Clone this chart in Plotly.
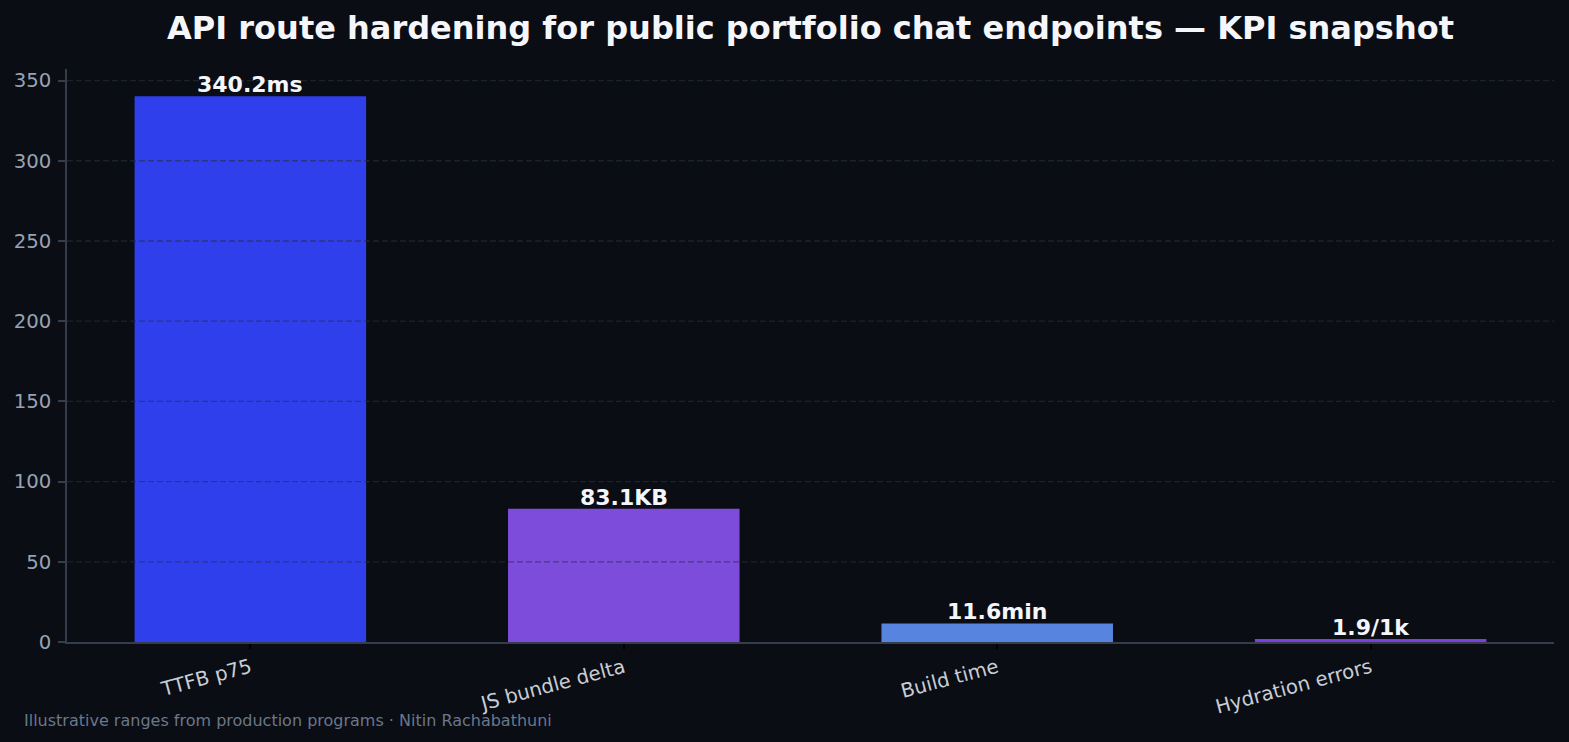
import plotly.graph_objects as go

categories = ["TTFB p75", "JS bundle delta", "Build time", "Hydration errors"]
values = [340.2, 83.1, 11.6, 1.9]
value_labels = ["340.2ms", "83.1KB", "11.6min", "1.9/1k"]
bar_colors = ["#2f3fec", "#7d4cdb", "#5784de", "#7b3fe0"]
y_ticks = [0, 50, 100, 150, 200, 250, 300, 350]

title = "API route hardening for public portfolio chat endpoints — KPI snapshot"
footer = "Illustrative ranges from production programs · Nitin Rachabathuni"

BG = "#0a0d14"
FONT = "DejaVu Sans"

W, H = 1569, 742
L, R, T, B = 67, 15, 69, 100
pw, ph = W - L - R, H - T - B

fig = go.Figure()
fig.add_trace(go.Bar(
    x=list(range(len(categories))),
    y=values,
    width=0.62,
    marker=dict(color=bar_colors, line=dict(width=0)),
    hoverinfo="skip",
))

shapes = []
for v in y_ticks[1:]:
    shapes.append(dict(type="line", xref="paper", yref="y", x0=0, x1=1, y0=v, y1=v,
                       layer="above", line=dict(color="rgba(40,48,62,0.6)", width=1.3, dash="6px,3px")))

annotations = []
for i, (v, lab) in enumerate(zip(values, value_labels)):
    annotations.append(dict(
        x=i, y=v, xref="x", yref="y", text="<b>" + lab + "</b>",
        xanchor="center", yanchor="bottom", yshift=-3, showarrow=False,
        font=dict(family=FONT, size=22, color="#f5f6fa"),
    ))
annotations.append(dict(
    text=footer, xref="paper", yref="paper",
    x=(22 - L) / pw, y=(H - B - 720) / ph, xanchor="left", yanchor="middle",
    showarrow=False, font=dict(family=FONT, size=16, color="#6b778a"),
))

fig.update_layout(
    width=W, height=H,
    margin=dict(l=L, r=R, t=T, b=B, pad=0),
    paper_bgcolor=BG, plot_bgcolor=BG,
    showlegend=False,
    shapes=shapes,
    annotations=annotations,
    title=dict(text="<b>" + title + "</b>", x=0.5, xref="paper", xanchor="center",
               y=1 - 28 / H, yref="container", yanchor="middle",
               font=dict(family=FONT, size=32, color="#f5f6fa")),
    xaxis=dict(
        range=[-0.491, 3.491],
        tickmode="array", tickvals=list(range(len(categories))), ticktext=categories,
        tickangle=-15,
        tickfont=dict(family=FONT, size=19.7, color="#c9cdd6"),
        showgrid=False, zeroline=False,
        showline=True, linecolor="#353c4a", linewidth=1.5,
        ticks="outside", ticklen=5, tickcolor="#000000", tickwidth=1.5,
    ),
    yaxis=dict(
        range=[0, 357.21],
        tickmode="array", tickvals=y_ticks,
        tickfont=dict(family=FONT, size=19.7, color="#98a2b3"),
        showgrid=False, zeroline=False,
        showline=True, linecolor="#353c4a", linewidth=1.5,
        ticks="outside", ticklen=7, tickcolor="#353c4a", tickwidth=1.5,
        ticklabelstandoff=3,
    ),
)

fig.write_html("out.html")
